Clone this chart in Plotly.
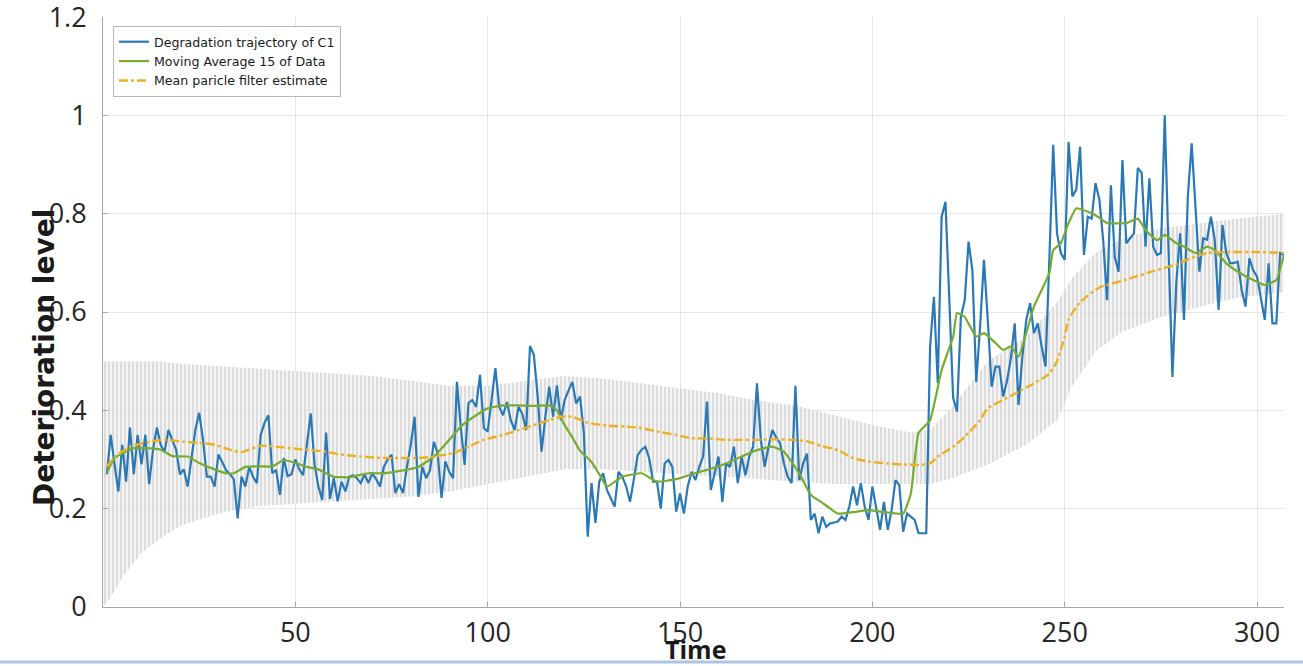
import plotly.graph_objects as go

# ---- measured degradation trajectory of component C1 (one value per time step) ----
c1_values = [
    0.27, 0.35, 0.29, 0.235, 0.33, 0.255, 0.365, 0.27, 0.35, 0.29,
    0.35, 0.25, 0.32, 0.365, 0.33, 0.315, 0.36, 0.34, 0.32, 0.27,
    0.28, 0.245, 0.30, 0.36, 0.395, 0.34, 0.265, 0.265, 0.245, 0.31,
    0.295, 0.278, 0.27, 0.26, 0.18, 0.265, 0.245, 0.285, 0.265, 0.252,
    0.35, 0.375, 0.39, 0.272, 0.279, 0.228, 0.303, 0.266, 0.27, 0.30,
    0.28, 0.268, 0.33, 0.394, 0.29, 0.245, 0.218, 0.355, 0.22, 0.262,
    0.215, 0.255, 0.235, 0.265, 0.268, 0.262, 0.252, 0.27, 0.252, 0.272,
    0.26, 0.245, 0.285, 0.30, 0.31, 0.232, 0.25, 0.232, 0.285, 0.33,
    0.387, 0.224, 0.285, 0.262, 0.278, 0.336, 0.313, 0.222, 0.296, 0.275,
    0.262, 0.458, 0.367, 0.289, 0.415, 0.421, 0.407, 0.472, 0.364, 0.357,
    0.421, 0.486, 0.407, 0.39, 0.417, 0.38, 0.36, 0.407, 0.393, 0.36,
    0.531, 0.513, 0.428, 0.316, 0.387, 0.448, 0.387, 0.451, 0.38, 0.421,
    0.44, 0.458, 0.414, 0.428, 0.354, 0.143, 0.252, 0.171, 0.255, 0.272,
    0.238, 0.22, 0.204, 0.275, 0.265, 0.245, 0.214, 0.26, 0.309, 0.32,
    0.326, 0.302, 0.255, 0.255, 0.20, 0.292, 0.299, 0.285, 0.194, 0.231,
    0.19, 0.245, 0.275, 0.258, 0.285, 0.306, 0.418, 0.238, 0.272, 0.306,
    0.214, 0.292, 0.285, 0.326, 0.252, 0.306, 0.268, 0.306, 0.326, 0.455,
    0.34, 0.285, 0.326, 0.36, 0.345, 0.333, 0.292, 0.265, 0.252, 0.45,
    0.258, 0.292, 0.312, 0.177, 0.19, 0.15, 0.184, 0.163, 0.17, 0.172,
    0.174, 0.184, 0.177, 0.204, 0.245, 0.207, 0.252, 0.204, 0.177, 0.245,
    0.197, 0.157, 0.214, 0.157, 0.197, 0.258, 0.248, 0.153, 0.19, 0.184,
    0.177, 0.15, 0.15, 0.15, 0.529, 0.631, 0.455, 0.794, 0.824, 0.604,
    0.425, 0.397, 0.59, 0.624, 0.743, 0.685, 0.458, 0.57, 0.706, 0.584,
    0.448, 0.489, 0.489, 0.428, 0.46, 0.506, 0.577, 0.411, 0.51, 0.584,
    0.618, 0.557, 0.577, 0.53, 0.489, 0.706, 0.94, 0.76, 0.72, 0.706,
    0.946, 0.835, 0.849, 0.936, 0.716, 0.794, 0.79, 0.862, 0.829, 0.746,
    0.624, 0.858, 0.712, 0.682, 0.909, 0.74, 0.75, 0.76, 0.893, 0.883,
    0.733, 0.872, 0.733, 0.716, 0.72, 1.0, 0.723, 0.468, 0.659, 0.76,
    0.584, 0.835, 0.943, 0.814, 0.682, 0.75, 0.747, 0.794, 0.747, 0.604,
    0.777, 0.72, 0.699, 0.70, 0.702, 0.645, 0.611, 0.709, 0.685, 0.672,
    0.628, 0.584, 0.699, 0.577, 0.577, 0.72, 0.716,
]
c1_time = list(range(1, len(c1_values) + 1))

# ---- 15-point moving average of the data ----
ma_time = [1, 3, 8, 11, 15, 18, 22, 25, 28, 32, 34, 37, 41, 44, 47, 50, 53, 56, 60,
           64, 69, 73, 78, 82, 86, 90, 93, 97, 100, 104, 108, 112, 116, 118, 120,
           122, 124, 127, 129, 131, 135, 140, 144, 149, 153, 157, 162, 166, 170,
           174, 177, 181, 184, 187, 191, 195, 199, 203, 208, 210, 212, 215, 218,
           221, 222, 224, 227, 229, 232, 234, 236, 238, 240, 242, 246, 247, 249,
           251, 253, 256, 258, 261, 266, 269, 271, 274, 276, 279, 281, 284, 287,
           289, 292, 295, 299, 302, 305, 307]
ma_values = [0.272, 0.303, 0.323, 0.323, 0.32, 0.307, 0.306, 0.293, 0.283, 0.272,
             0.272, 0.285, 0.286, 0.286, 0.299, 0.293, 0.285, 0.28, 0.265,
             0.264, 0.272, 0.272, 0.278, 0.285, 0.306, 0.34, 0.367, 0.39, 0.404,
             0.41, 0.41, 0.409, 0.41, 0.40, 0.37,
             0.345, 0.318, 0.295, 0.27, 0.245, 0.265, 0.272, 0.255, 0.26, 0.27,
             0.279, 0.292, 0.306, 0.319,
             0.326, 0.316, 0.272, 0.228, 0.212, 0.19, 0.193, 0.197, 0.193, 0.19,
             0.231, 0.354, 0.38, 0.482,
             0.55, 0.598, 0.59, 0.55, 0.557, 0.537, 0.523, 0.53, 0.509, 0.557,
             0.611, 0.679, 0.726, 0.74,
             0.781, 0.811, 0.804, 0.797, 0.781, 0.781, 0.79, 0.767, 0.746, 0.757,
             0.74, 0.733, 0.72, 0.733,
             0.726, 0.699, 0.682, 0.665, 0.655, 0.665, 0.716]

# ---- mean of the particle filter estimate ----
pf_time = [1, 3, 7, 12, 16, 21, 25, 29, 33, 36, 41, 45, 50, 54, 58, 61, 67, 73, 78,
           82, 86, 91, 95, 99, 104, 108, 112, 116, 119, 122, 126, 131, 136, 140,
           144, 149, 153, 157, 162, 166, 170, 175, 179, 183, 187, 191, 195, 199,
           204, 208, 212, 215, 217, 221, 224, 228, 230, 235, 238, 242, 246, 248,
           250, 251, 254, 259, 261, 266, 273, 279, 283, 287, 292, 300, 307]
pf_values = [0.285, 0.305, 0.326, 0.336, 0.34, 0.336, 0.334, 0.33, 0.32, 0.315,
             0.328, 0.326, 0.322, 0.319, 0.316, 0.311, 0.306, 0.303, 0.303,
             0.303, 0.306, 0.313, 0.326, 0.34, 0.35, 0.36, 0.37, 0.38, 0.387,
             0.387, 0.375, 0.369, 0.367, 0.364,
             0.357, 0.35, 0.343, 0.343, 0.34, 0.34, 0.34, 0.341, 0.34, 0.337,
             0.327, 0.319, 0.303, 0.296,
             0.292, 0.29, 0.289, 0.292, 0.306, 0.326, 0.346, 0.38, 0.404, 0.425,
             0.438, 0.455, 0.475, 0.50,
             0.55, 0.585, 0.62, 0.65, 0.655, 0.666, 0.683, 0.697, 0.71, 0.72,
             0.722, 0.722, 0.72]

# ---- spread of the particle cloud (lower / upper envelope) ----
cloud_time = [0, 2, 5, 10, 15, 20, 30, 40, 50, 60, 70, 80, 90, 100, 110, 120, 130,
              140, 150, 160, 170, 180, 190, 200, 210, 215, 220, 230, 240, 248, 252,
              258, 265, 275, 285, 295, 307]
cloud_low = [0.0, 0.02, 0.06, 0.11, 0.14, 0.165, 0.19, 0.205, 0.21, 0.215, 0.22,
             0.225, 0.235, 0.25, 0.265, 0.28, 0.28, 0.275, 0.27, 0.265, 0.26, 0.255,
             0.25, 0.25, 0.25, 0.25, 0.26, 0.29, 0.33, 0.38, 0.45, 0.52, 0.56, 0.59,
             0.61, 0.63, 0.64]
cloud_high = [0.50, 0.50, 0.50, 0.50, 0.50, 0.495, 0.49, 0.485, 0.48, 0.475, 0.47,
              0.46, 0.45, 0.45, 0.46, 0.47, 0.465, 0.455, 0.445, 0.435, 0.42, 0.41,
              0.39, 0.37, 0.355, 0.36, 0.40, 0.50, 0.55, 0.62, 0.67, 0.72, 0.75, 0.77,
              0.78, 0.79, 0.80]

BLUE = "#2a78b6"
GREEN = "#77ac30"
ORANGE = "#edb120"

# plot area in pixels: x 103..1284, y 17..607
PLOT_L, PLOT_R, PLOT_T, PLOT_B = 103, 1284, 17, 607
PW, PH = PLOT_R - PLOT_L, PLOT_B - PLOT_T


def px_to_paper(px, py):
    return (px - PLOT_L) / PW, (PLOT_B - py) / PH


fig = go.Figure()

# particle cloud: vertical hatching between the envelopes
fig.add_trace(go.Scatter(
    x=cloud_time, y=cloud_low, mode="lines", line=dict(width=0),
    showlegend=False, hoverinfo="skip"))
fig.add_trace(go.Scatter(
    x=cloud_time, y=cloud_high, mode="lines", line=dict(width=0),
    fill="tonexty", fillcolor="rgba(0,0,0,0)",
    fillpattern=dict(shape="|", size=4, solidity=0.35,
                     fgcolor="#afafaf", bgcolor="rgba(242,242,242,0.7)"),
    showlegend=False, hoverinfo="skip"))

fig.add_trace(go.Scatter(
    x=c1_time, y=c1_values, mode="lines",
    line=dict(color=BLUE, width=2.2),
    name="Degradation trajectory of C1"))
fig.add_trace(go.Scatter(
    x=ma_time, y=ma_values, mode="lines",
    line=dict(color=GREEN, width=2.2, shape="spline", smoothing=0.4),
    name="Moving Average 15 of Data"))
fig.add_trace(go.Scatter(
    x=pf_time, y=pf_values, mode="lines",
    line=dict(color=ORANGE, width=2.4, dash="dashdot", shape="spline", smoothing=0.6),
    name="Mean paricle filter estimate"))

axis_common = dict(
    showgrid=True, gridcolor="#e6e6e6", gridwidth=1,
    zeroline=False, showline=True, linecolor="#a8a8a8", linewidth=1,
    ticks="inside", ticklen=5, tickcolor="#a8a8a8", automargin=False,
    ticklabeloverflow="allow",
    tickfont=dict(family="Open Sans, sans-serif", size=27, color="#262626"),
)

ylab_x, ylab_y = px_to_paper(44, 358)
xlab_x, xlab_y = px_to_paper(695, 649)
bl_x0, bl_y = px_to_paper(0, 662)
bl_x1, _ = px_to_paper(1303, 662)

fig.update_layout(
    width=1303, height=666,
    margin=dict(l=PLOT_L, r=1303 - PLOT_R, t=PLOT_T, b=666 - PLOT_B),
    paper_bgcolor="white", plot_bgcolor="white",
    xaxis=dict(range=[0, 307], tickvals=[50, 100, 150, 200, 250, 300],
               ticklabelstandoff=2, **axis_common),
    yaxis=dict(range=[0, 1.2001], tickvals=[0, 0.2, 0.4, 0.6, 0.8, 1.0, 1.2],
               ticktext=["0", "0.2", "0.4", "0.6", "0.8", "1", "1.2"],
               ticklabelstandoff=10, **axis_common),
    legend=dict(
        traceorder="normal",
        x=px_to_paper(113, 0)[0], y=px_to_paper(0, 26)[1],
        xanchor="left", yanchor="top",
        bgcolor="white", bordercolor="#b8b8b8", borderwidth=1,
        font=dict(family="DejaVu Sans, sans-serif", size=12.6, color="#1a1a1a"),
        tracegroupgap=0, itemwidth=30,
    ),
    annotations=[
        dict(text="<b>Deterioration level</b>", textangle=-90,
             xref="paper", yref="paper", x=ylab_x, y=ylab_y,
             xanchor="center", yanchor="middle", showarrow=False,
             font=dict(family="DejaVu Sans, sans-serif", size=28, color="#1a1a1a")),
        dict(text="<b>Time</b>",
             xref="paper", yref="paper", x=xlab_x, y=xlab_y,
             xanchor="center", yanchor="middle", showarrow=False,
             font=dict(family="Open Sans, sans-serif", size=25, color="#1a1a1a")),
    ],
    shapes=[dict(
        type="line", xref="paper", yref="paper",
        x0=bl_x0, x1=bl_x1, y0=bl_y, y1=bl_y,
        line=dict(color="#a9c6e3", width=3),
    )],
)

fig.write_html("out.html")
